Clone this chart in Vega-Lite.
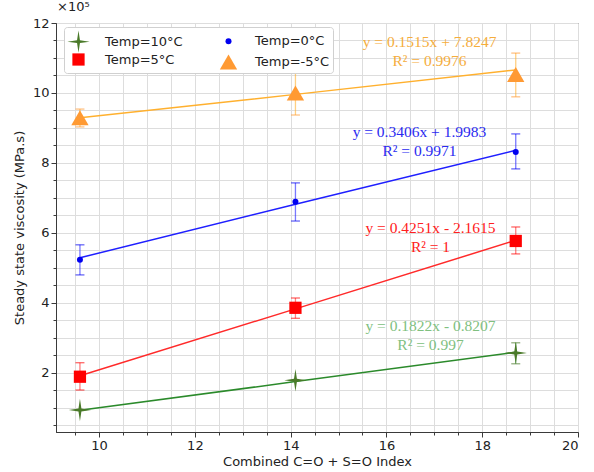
{
  "$schema": "https://vega.github.io/schema/vega-lite/v6.json",
  "width": 522,
  "height": 409,
  "autosize": {"type": "none"},
  "padding": {"left": 56, "top": 23, "right": 16, "bottom": 40},
  "background": "white",
  "config": {
    "font": "DejaVu Sans",
    "view": {"stroke": "#3a3a3a", "strokeWidth": 1},
    "axis": {
      "labelFont": "DejaVu Sans",
      "titleFont": "DejaVu Sans",
      "labelFontSize": 13,
      "titleFontSize": 13,
      "titleFontWeight": "normal",
      "labelColor": "#222222",
      "titleColor": "#222222",
      "domainColor": "#3a3a3a",
      "tickColor": "#3a3a3a",
      "gridColor": "#dddddd",
      "gridWidth": 1,
      "labelOverlap": false,
      "labelPadding": 2
    },
    "axisX": {"titlePadding": 3},
    "axisY": {"titlePadding": 6},
    "legend": {
      "title": null,
      "orient": "none",
      "legendX": 8,
      "legendY": 4,
      "columns": 2,
      "fillColor": "white",
      "strokeColor": "#d0d0d0",
      "cornerRadius": 3,
      "padding": 3,
      "labelFont": "DejaVu Sans",
      "labelFontSize": 13,
      "labelColor": "#222222",
      "labelOffset": 15,
      "columnPadding": 34,
      "rowPadding": -4,
      "symbolStrokeWidth": 0,
      "symbolOpacity": 1
    }
  },
  "title": {
    "text": "×10⁵",
    "anchor": "start",
    "frame": "group",
    "font": "DejaVu Sans",
    "fontSize": 13,
    "fontWeight": "normal",
    "color": "#222222",
    "offset": 3,
    "dx": 1
  },
  "data": {
    "values": [
      {"temp": "Temp=10°C", "index": 9.6, "visc": 0.94, "lo": null, "hi": null, "fit": 0.93},
      {"temp": "Temp=10°C", "index": 14.1, "visc": 1.79, "lo": null, "hi": null, "fit": 1.75},
      {"temp": "Temp=10°C", "index": 18.7, "visc": 2.57, "lo": 2.26, "hi": 2.86, "fit": 2.59},
      {"temp": "Temp=5°C", "index": 9.6, "visc": 1.89, "lo": 1.51, "hi": 2.29, "fit": 1.92},
      {"temp": "Temp=5°C", "index": 14.1, "visc": 3.86, "lo": 3.56, "hi": 4.14, "fit": 3.83},
      {"temp": "Temp=5°C", "index": 18.7, "visc": 5.77, "lo": 5.40, "hi": 6.17, "fit": 5.79},
      {"temp": "Temp=0°C", "index": 9.6, "visc": 5.23, "lo": 4.80, "hi": 5.66, "fit": 5.29},
      {"temp": "Temp=0°C", "index": 14.1, "visc": 6.89, "lo": 6.34, "hi": 7.43, "fit": 6.82},
      {"temp": "Temp=0°C", "index": 18.7, "visc": 8.31, "lo": 7.83, "hi": 8.83, "fit": 8.36},
      {"temp": "Temp=-5°C", "index": 9.6, "visc": 9.29, "lo": 9.03, "hi": 9.54, "fit": 9.29},
      {"temp": "Temp=-5°C", "index": 14.1, "visc": 10.0, "lo": 9.37, "hi": 10.63, "fit": 9.96},
      {"temp": "Temp=-5°C", "index": 18.7, "visc": 10.53, "lo": 9.89, "hi": 11.14, "fit": 10.66}
    ]
  },
  "encoding": {
    "x": {
      "field": "index",
      "type": "quantitative",
      "scale": {"domain": [9.1, 20], "nice": false, "zero": false},
      "axis": {
        "title": "Combined C=O + S=O Index",
        "values": [9.5, 10, 10.5, 11, 11.5, 12, 12.5, 13, 13.5, 14, 14.5, 15, 15.5, 16, 16.5, 17, 17.5, 18, 18.5, 19, 19.5, 20],
        "labelExpr": "datum.value % 2 == 0 ? format(datum.value, 'd') : ''",
        "tickSize": {"condition": {"test": "datum.value % 2 == 0", "value": 5}, "value": 3}
      }
    },
    "y": {
      "field": "visc",
      "type": "quantitative",
      "scale": {"domain": [0.31, 12], "nice": false, "zero": false},
      "axis": {
        "title": "Steady state viscosity (MPa.s)",
        "values": [0.5, 1, 1.5, 2, 2.5, 3, 3.5, 4, 4.5, 5, 5.5, 6, 6.5, 7, 7.5, 8, 8.5, 9, 9.5, 10, 10.5, 11, 11.5, 12],
        "labelExpr": "datum.value % 2 == 0 ? format(datum.value, 'd') : ''",
        "tickSize": {"condition": {"test": "datum.value % 2 == 0", "value": 5}, "value": 3}
      }
    }
  },
  "layer": [
    {
      "mark": {"type": "line", "strokeWidth": 1.5},
      "encoding": {
        "y": {
          "field": "fit",
          "type": "quantitative",
          "axis": {
            "title": "Steady state viscosity (MPa.s)",
            "values": [0.5, 1, 1.5, 2, 2.5, 3, 3.5, 4, 4.5, 5, 5.5, 6, 6.5, 7, 7.5, 8, 8.5, 9, 9.5, 10, 10.5, 11, 11.5, 12],
            "labelExpr": "datum.value % 2 == 0 ? format(datum.value, 'd') : ''",
            "tickSize": {"condition": {"test": "datum.value % 2 == 0", "value": 5}, "value": 3}
          }
        },
        "stroke": {
          "field": "temp",
          "type": "nominal",
          "scale": {
            "domain": ["Temp=10°C", "Temp=5°C", "Temp=0°C", "Temp=-5°C"],
            "range": ["#2b8a2b", "#ff2a2a", "#1f1fff", "#ffb02e"]
          }
        },
        "detail": {"field": "temp"}
      }
    },
    {
      "transform": [{"filter": "isValid(datum.lo)"}],
      "mark": {"type": "rule", "strokeWidth": 1.3, "strokeOpacity": 0.6},
      "encoding": {
        "y": {
          "field": "lo",
          "type": "quantitative",
          "axis": {
            "title": "Steady state viscosity (MPa.s)",
            "values": [0.5, 1, 1.5, 2, 2.5, 3, 3.5, 4, 4.5, 5, 5.5, 6, 6.5, 7, 7.5, 8, 8.5, 9, 9.5, 10, 10.5, 11, 11.5, 12],
            "labelExpr": "datum.value % 2 == 0 ? format(datum.value, 'd') : ''",
            "tickSize": {"condition": {"test": "datum.value % 2 == 0", "value": 5}, "value": 3}
          }
        },
        "y2": {"field": "hi"},
        "stroke": {"field": "temp", "type": "nominal"}
      }
    },
    {
      "transform": [
        {"filter": "isValid(datum.lo)"},
        {"fold": ["lo", "hi"], "as": ["end", "bound"]}
      ],
      "mark": {"type": "tick", "orient": "horizontal", "size": 9, "thickness": 1.3, "opacity": 0.6},
      "encoding": {
        "y": {
          "field": "bound",
          "type": "quantitative",
          "axis": {
            "title": "Steady state viscosity (MPa.s)",
            "values": [0.5, 1, 1.5, 2, 2.5, 3, 3.5, 4, 4.5, 5, 5.5, 6, 6.5, 7, 7.5, 8, 8.5, 9, 9.5, 10, 10.5, 11, 11.5, 12],
            "labelExpr": "datum.value % 2 == 0 ? format(datum.value, 'd') : ''",
            "tickSize": {"condition": {"test": "datum.value % 2 == 0", "value": 5}, "value": 3}
          }
        },
        "color": {"field": "temp", "type": "nominal"}
      }
    },
    {
      "mark": {"type": "point", "filled": true, "opacity": 1},
      "encoding": {
        "color": {
          "field": "temp",
          "type": "nominal",
          "scale": {
            "domain": ["Temp=10°C", "Temp=5°C", "Temp=0°C", "Temp=-5°C"],
            "range": ["#4a7a29", "#ff0000", "#0000f0", "#ff9a33"]
          }
        },
        "shape": {
          "field": "temp",
          "type": "nominal",
          "scale": {
            "domain": ["Temp=10°C", "Temp=5°C", "Temp=0°C", "Temp=-5°C"],
            "range": ["M0,-1L0.13,-0.13L1,0L0.13,0.13L0,1L-0.13,0.13L-1,0L-0.13,-0.13Z", "square", "circle", "triangle-up"]
          }
        },
        "size": {
          "field": "temp",
          "type": "nominal",
          "scale": {
            "type": "ordinal",
            "domain": ["Temp=10°C", "Temp=5°C", "Temp=0°C", "Temp=-5°C"],
            "range": [500, 150, 36, 300]
          }
        }
      }
    },
    {
      "transform": [{"filter": "datum.temp == 'Temp=-5°C' && datum.index == 18.7"}],
      "mark": {"type": "text", "text": ["y = 0.1515x + 7.8247", "R² = 0.9976"], "font": "Liberation Serif", "fontSize": 15.5, "lineHeight": 19, "align": "center", "baseline": "middle", "color": "#f5ad3c"},
      "encoding": {"x": {"datum": 16.9, "type": "quantitative"}, "y": {"datum": 11.46, "type": "quantitative"}}
    },
    {
      "transform": [{"filter": "datum.temp == 'Temp=0°C' && datum.index == 18.7"}],
      "mark": {"type": "text", "text": ["y = 0.3406x + 1.9983", "R² = 0.9971"], "font": "Liberation Serif", "fontSize": 15.5, "lineHeight": 19, "align": "center", "baseline": "middle", "color": "#2a2af0"},
      "encoding": {"x": {"datum": 16.69, "type": "quantitative"}, "y": {"datum": 8.89, "type": "quantitative"}}
    },
    {
      "transform": [{"filter": "datum.temp == 'Temp=5°C' && datum.index == 18.7"}],
      "mark": {"type": "text", "text": ["y = 0.4251x - 2.1615", "R² = 1"], "font": "Liberation Serif", "fontSize": 15.5, "lineHeight": 19, "align": "center", "baseline": "middle", "color": "#ff2020"},
      "encoding": {"x": {"datum": 16.92, "type": "quantitative"}, "y": {"datum": 6.14, "type": "quantitative"}}
    },
    {
      "transform": [{"filter": "datum.temp == 'Temp=10°C' && datum.index == 18.7"}],
      "mark": {"type": "text", "text": ["y = 0.1822x - 0.8207", "R² = 0.997"], "font": "Liberation Serif", "fontSize": 15.5, "lineHeight": 19, "align": "center", "baseline": "middle", "color": "#80c080"},
      "encoding": {"x": {"datum": 16.92, "type": "quantitative"}, "y": {"datum": 3.34, "type": "quantitative"}}
    }
  ]
}
